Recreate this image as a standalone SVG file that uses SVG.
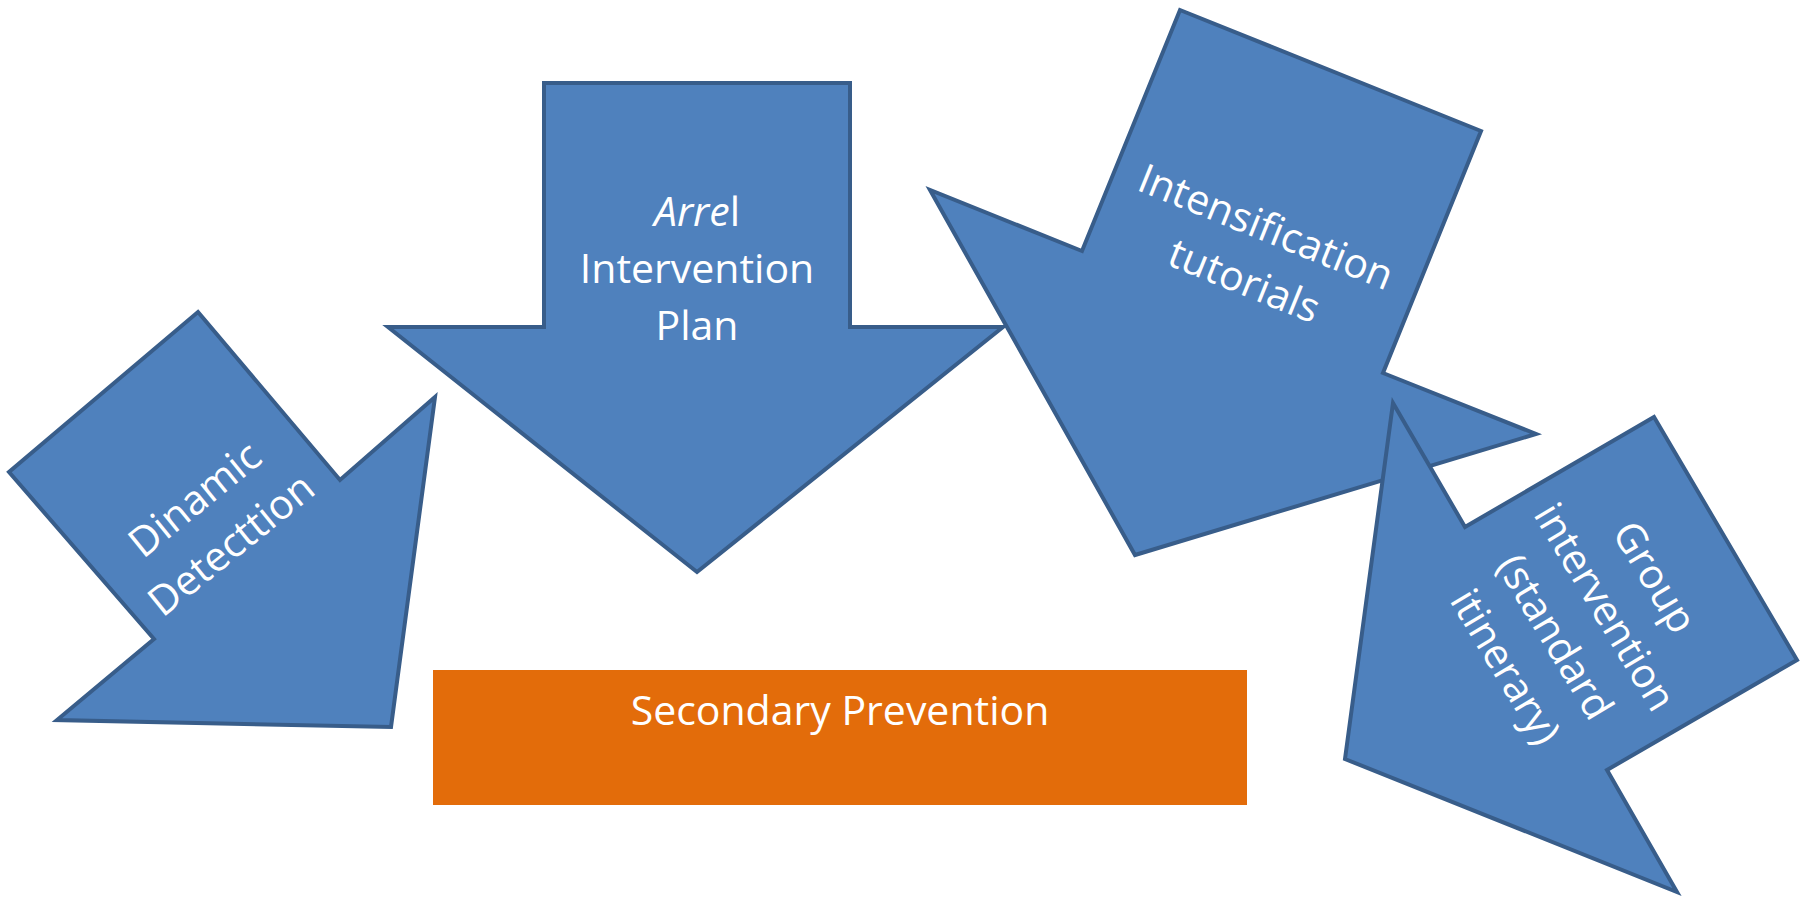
<svg xmlns="http://www.w3.org/2000/svg" width="1808" height="897" viewBox="0 0 1808 897">
<style>
.arrow{fill:#4F81BD;stroke:#385D8A;stroke-width:4;stroke-linejoin:miter}
.lbl{font-family:"Open Sans","Liberation Sans",sans-serif;font-size:41px;fill:#FFFFFF;text-anchor:middle}
</style>
<rect width="1808" height="897" fill="#FFFFFF"/>
<g id="node-dinamic">
<polygon class="arrow" points="198,312 340,480 435,397 391,727 57,720 154,639 9,472"/>
<g transform="translate(213,522) rotate(-39)">
<text class="lbl" x="0" y="-15">Dinamic</text>
<text class="lbl" x="0" y="43">Detecttion</text>
</g>
</g>
<g id="node-arrel">
<polygon class="arrow" points="544,83 850,83 850,327 1003,327 697,572 388,327 544,327"/>
<text class="lbl" x="697" y="226"><tspan font-style="italic">Arre</tspan>l</text>
<text class="lbl" x="697" y="283">Intervention</text>
<text class="lbl" x="697" y="340">Plan</text>
</g>
<g id="node-intensification">
<polygon class="arrow" points="1180,10 1481,131 1383,373 1536,434 1135,555 930,190 1082,251"/>
<g transform="translate(1255,254) rotate(22)">
<text class="lbl" x="0" y="-15">Intensification</text>
<text class="lbl" x="0" y="43">tutorials</text>
</g>
</g>
<g id="node-group">
<polygon class="arrow" points="1393,403 1465,527 1654,417 1797,660 1607,770 1677,892 1345,759"/>
<g transform="translate(1580,622) rotate(59)">
<text class="lbl" x="0" y="-73">Group</text>
<text class="lbl" x="0" y="-15">intervention</text>
<text class="lbl" x="0" y="43">(standard</text>
<text class="lbl" x="0" y="101">itinerary)</text>
</g>
</g>
<g id="node-secondary">
<rect x="433" y="670" width="814" height="135" fill="#E36C0A"/>
<text class="lbl" x="840" y="725">Secondary Prevention</text>
</g>
<g id="connectors"></g>
</svg>
